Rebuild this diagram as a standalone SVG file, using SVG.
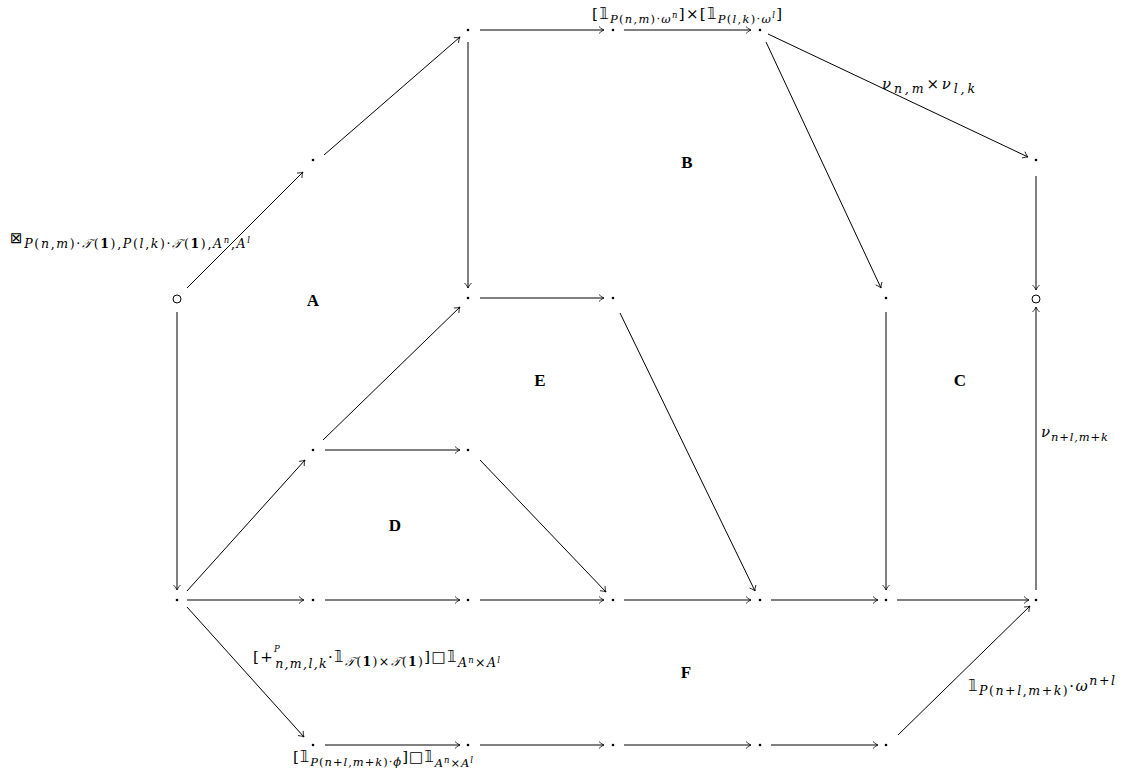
<svg xmlns="http://www.w3.org/2000/svg" width="1122" height="780" viewBox="0 0 1122 780">
<style>
.e{stroke:#000;stroke-width:1;fill:none;marker-end:url(#a)}
.t{font-family:"DejaVu Serif","Liberation Serif",serif;font-size:15px;fill:#000}
.i{font-style:italic}
.s{font-size:11.5px}
.ss{font-size:8.5px}
.s2{font-size:12.5px}
.r{font-family:"Liberation Serif","DejaVu Serif",serif;font-size:17px;font-weight:bold;fill:#000}
.m{font-family:"DejaVu Sans",sans-serif}
</style>
<defs>
<marker id="a" markerUnits="userSpaceOnUse" orient="auto" markerWidth="12" markerHeight="12" refX="0" refY="0" viewBox="-7 -6 9 12" overflow="visible">
<path d="M-5,-3.5 C-3,-1.5 -1,-0.4 0,0 C-1,0.4 -3,1.5 -5,3.5" fill="none" stroke="#000" stroke-width="0.8"/>
</marker>
</defs>
<rect width="1122" height="780" fill="#fff"/>
<g id="connectors">
<line class="e" x1="187" y1="288" x2="303" y2="172"/>
<line class="e" x1="324" y1="155" x2="460" y2="37"/>
<line class="e" x1="480" y1="30" x2="604" y2="30"/>
<line class="e" x1="624" y1="30" x2="751" y2="30"/>
<line class="e" x1="768" y1="34" x2="1028" y2="157"/>
<line class="e" x1="766" y1="42" x2="881" y2="288"/>
<line class="e" x1="468" y1="42" x2="468" y2="288"/>
<line class="e" x1="1036" y1="176" x2="1036" y2="290"/>
<line class="e" x1="1036" y1="590" x2="1036" y2="307"/>
<line class="e" x1="177" y1="312" x2="177" y2="590"/>
<line class="e" x1="480" y1="298" x2="604" y2="298"/>
<line class="e" x1="620" y1="313" x2="755" y2="591"/>
<line class="e" x1="886" y1="312" x2="886" y2="590"/>
<line class="e" x1="323" y1="440" x2="460" y2="307"/>
<line class="e" x1="325" y1="450" x2="460" y2="450"/>
<line class="e" x1="480" y1="460" x2="606" y2="592"/>
<line class="e" x1="187" y1="591" x2="305" y2="460"/>
<line class="e" x1="187" y1="600" x2="304" y2="600"/>
<line class="e" x1="325" y1="600" x2="460" y2="600"/>
<line class="e" x1="480" y1="600" x2="604" y2="600"/>
<line class="e" x1="624" y1="600" x2="751" y2="600"/>
<line class="e" x1="771" y1="600" x2="878" y2="600"/>
<line class="e" x1="897" y1="600" x2="1029" y2="600"/>
<line class="e" x1="187" y1="607" x2="304" y2="737"/>
<line class="e" x1="325" y1="745" x2="460" y2="745"/>
<line class="e" x1="480" y1="745" x2="604" y2="745"/>
<line class="e" x1="624" y1="745" x2="751" y2="745"/>
<line class="e" x1="771" y1="745" x2="878" y2="745"/>
<line class="e" x1="898" y1="735" x2="1030" y2="606"/>
</g>
<g id="nodes" fill="#000">
<g id="n1"><circle cx="468" cy="30" r="1.3"/></g>
<g id="n2"><circle cx="613" cy="30" r="1.3"/></g>
<g id="n3"><circle cx="760" cy="30" r="1.3"/></g>
<g id="n4"><circle cx="313" cy="160" r="1.3"/></g>
<g id="n5"><circle cx="1036" cy="160" r="1.3"/></g>
<g id="n6"><circle cx="177" cy="299" r="4" fill="none" stroke="#000" stroke-width="1"/></g>
<g id="n7"><circle cx="468" cy="298" r="1.3"/></g>
<g id="n8"><circle cx="613" cy="298" r="1.3"/></g>
<g id="n9"><circle cx="886" cy="298" r="1.3"/></g>
<g id="n10"><circle cx="1036" cy="299" r="4" fill="none" stroke="#000" stroke-width="1"/></g>
<g id="n11"><circle cx="313" cy="450" r="1.3"/></g>
<g id="n12"><circle cx="468" cy="450" r="1.3"/></g>
<g id="n13"><circle cx="177" cy="600" r="1.3"/></g>
<g id="n14"><circle cx="313" cy="600" r="1.3"/></g>
<g id="n15"><circle cx="468" cy="600" r="1.3"/></g>
<g id="n16"><circle cx="613" cy="600" r="1.3"/></g>
<g id="n17"><circle cx="760" cy="600" r="1.3"/></g>
<g id="n18"><circle cx="886" cy="600" r="1.3"/></g>
<g id="n19"><circle cx="1036" cy="600" r="1.3"/></g>
<g id="n20"><circle cx="313" cy="745" r="1.3"/></g>
<g id="n21"><circle cx="468" cy="745" r="1.3"/></g>
<g id="n22"><circle cx="613" cy="745" r="1.3"/></g>
<g id="n23"><circle cx="760" cy="745" r="1.3"/></g>
<g id="n24"><circle cx="886" cy="745" r="1.3"/></g>
</g>
<g id="regions">
<text class="r" x="313" y="306" text-anchor="middle">A</text>
<text class="r" x="687" y="168" text-anchor="middle">B</text>
<text class="r" x="960" y="386" text-anchor="middle">C</text>
<text class="r" x="395" y="531" text-anchor="middle">D</text>
<text class="r" x="540" y="386" text-anchor="middle">E</text>
<text class="r" x="686" y="678" text-anchor="middle">F</text>
</g>
<g id="labels">
<text class="t" x="592" y="19" textLength="190" lengthAdjust="spacing">[<tspan class="m">𝟙</tspan><tspan class="s" dy="4"><tspan class="i">P</tspan>(<tspan class="i">n</tspan>,<tspan class="i">m</tspan>)·<tspan class="i">ω</tspan><tspan dy="-5" class="ss i">n</tspan></tspan><tspan dy="1">]×[</tspan><tspan class="m">𝟙</tspan><tspan class="s" dy="4"><tspan class="i">P</tspan>(<tspan class="i">l</tspan>,<tspan class="i">k</tspan>)·<tspan class="i">ω</tspan><tspan dy="-5" class="ss i">l</tspan></tspan><tspan dy="1">]</tspan></text>
<text class="t" x="882" y="89" textLength="93" lengthAdjust="spacing" font-size="16"><tspan class="i">ν</tspan><tspan class="s2 i" dy="4">n,m</tspan><tspan dy="-4">×</tspan><tspan class="i">ν</tspan><tspan class="s2 i" dy="4">l,k</tspan></text>
<text class="t" x="10" y="243" textLength="240" lengthAdjust="spacing"><tspan class="m">⊠</tspan><tspan class="s2" dy="5" font-size="13"><tspan class="i">P</tspan>(<tspan class="i">n</tspan>,<tspan class="i">m</tspan>)·<tspan class="i">𝒯</tspan>(<tspan font-weight="bold">1</tspan>),<tspan class="i">P</tspan>(<tspan class="i">l</tspan>,<tspan class="i">k</tspan>)·<tspan class="i">𝒯</tspan>(<tspan font-weight="bold">1</tspan>),<tspan class="i">A</tspan><tspan dy="-5" class="ss i">n</tspan><tspan dy="5">,</tspan><tspan class="i">A</tspan><tspan dy="-5" class="ss i">l</tspan></tspan></text>
<text class="t" x="1041" y="437" textLength="67" lengthAdjust="spacing"><tspan class="i">ν</tspan><tspan class="s i" dy="4">n+l,m+k</tspan></text>
<text class="t" x="253" y="662" textLength="247" lengthAdjust="spacing">[+<tspan class="ss i" dy="-10">P</tspan><tspan class="s2 i" dx="-6" dy="16">n,m,l,k</tspan><tspan dy="-6">·</tspan><tspan class="m">𝟙</tspan><tspan class="s2" dy="4"><tspan class="i">𝒯</tspan>(<tspan font-weight="bold">1</tspan>)×<tspan class="i">𝒯</tspan>(<tspan font-weight="bold">1</tspan>)</tspan><tspan dy="-4">]□</tspan><tspan class="m">𝟙</tspan><tspan class="s2" dy="5"><tspan class="i">A</tspan><tspan class="ss i" dy="-4">n</tspan><tspan dy="4">×</tspan><tspan class="i">A</tspan><tspan class="ss i" dy="-4">l</tspan></tspan></text>
<text class="t" x="293" y="762" textLength="180" lengthAdjust="spacing">[<tspan class="m">𝟙</tspan><tspan class="s" dy="4"><tspan class="i">P</tspan>(<tspan class="i">n</tspan>+<tspan class="i">l</tspan>,<tspan class="i">m</tspan>+<tspan class="i">k</tspan>)·<tspan class="i">ϕ</tspan></tspan><tspan dy="-4">]□</tspan><tspan class="m">𝟙</tspan><tspan class="s" dy="5"><tspan class="i">A</tspan><tspan class="ss i" dy="-4">n</tspan><tspan dy="4">×</tspan><tspan class="i">A</tspan><tspan class="ss i" dy="-4">l</tspan></tspan></text>
<text class="t" x="968" y="691" textLength="147" lengthAdjust="spacing"><tspan class="m">𝟙</tspan><tspan class="s2" dy="4"><tspan class="i">P</tspan>(<tspan class="i">n</tspan>+<tspan class="i">l</tspan>,<tspan class="i">m</tspan>+<tspan class="i">k</tspan>)</tspan><tspan dy="-4">·</tspan><tspan class="i">ω</tspan><tspan class="s2 i" dy="-6">n+l</tspan></text>
</g>
</svg>
